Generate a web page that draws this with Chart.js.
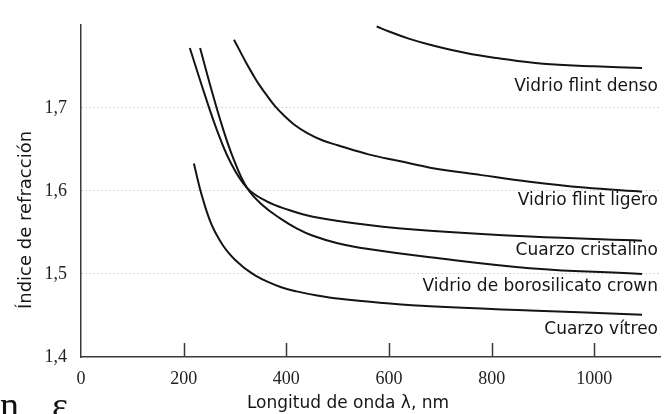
<!DOCTYPE html>
<html>
<head>
<meta charset="utf-8">
<script src="https://cdn.jsdelivr.net/npm/chart.js@4/dist/chart.umd.min.js"></script>
<style>
  html, body { margin: 0; padding: 0; background: #ffffff; }
  #wrap { width: 672px; height: 414px; position: relative; }
</style>
</head>
<body>
<div id="wrap"><canvas id="c" width="672" height="414"></canvas></div>
<script>
// Refractive index vs wavelength (nm) for several optical materials
const seriesNames = [
  'Vidrio flint denso',
  'Vidrio flint ligero',
  'Cuarzo cristalino',
  'Vidrio de borosilicato crown',
  'Cuarzo vítreo'
];

const flintDensoX = [576, 600, 640, 680, 750, 810, 900, 1000, 1093];
const flintDensoY = [1.798, 1.792, 1.783, 1.776, 1.766, 1.760, 1.753, 1.750, 1.748];

const flintLigeroX = [298, 310, 322, 335, 348, 362, 378, 395, 415, 440, 470, 500, 560, 620, 680, 780, 874, 980, 1093];
const flintLigeroY = [1.782, 1.768, 1.754, 1.740, 1.727, 1.715, 1.702, 1.691, 1.680, 1.670, 1.661, 1.655, 1.644, 1.636, 1.628, 1.619, 1.611, 1.604, 1.599];

const cristalinoX = [212, 240, 265, 290, 323, 360, 400, 452, 560, 680, 874, 1093];
const cristalinoY = [1.772, 1.718, 1.673, 1.636, 1.604, 1.588, 1.578, 1.569, 1.559, 1.552, 1.545, 1.540];

const crownX = [232, 255, 275, 295, 323, 355, 388, 420, 452, 500, 560, 680, 874, 1093];
const crownY = [1.772, 1.720, 1.678, 1.642, 1.604, 1.582, 1.567, 1.555, 1.546, 1.537, 1.530, 1.520, 1.507, 1.500];

const vitreoX = [220, 226, 232, 238, 245, 252, 260, 268, 277, 288, 300, 311, 323, 340, 362, 390, 420, 460, 504, 590, 680, 874, 1093];
const vitreoY = [1.633, 1.617, 1.602, 1.589, 1.575, 1.563, 1.552, 1.543, 1.534, 1.525, 1.517, 1.511, 1.505, 1.498, 1.491, 1.484, 1.479, 1.474, 1.470, 1.465, 1.461, 1.456, 1.451];

const xTickValues = [0, 200, 400, 600, 800, 1000];
const yTickValues = [1.4, 1.5, 1.6, 1.7];

// Baselines (canvas px) of the material names written at the right edge
const labelBaselines = [91, 205, 255, 291, 334];

const xs = [flintDensoX, flintLigeroX, cristalinoX, crownX, vitreoX];
const ys = [flintDensoY, flintLigeroY, cristalinoY, crownY, vitreoY];

const datasets = seriesNames.map((name, i) => ({
  label: name,
  data: xs[i].map((x, j) => ({ x: x, y: ys[i][j] })),
  borderColor: '#141414',
  borderWidth: 2,
  pointRadius: 0,
  fill: false,
  tension: 0.4
}));

const SANS = '"DejaVu Sans", "Liberation Sans", sans-serif';
const SERIF = '"Liberation Serif", "DejaVu Serif", serif';

const decor = {
  id: 'decor',
  afterDraw(chart) {
    const ctx = chart.ctx;
    const xScale = chart.scales.x;
    const area = chart.chartArea;
    ctx.save();

    // inward tick marks on the wavelength axis
    ctx.strokeStyle = '#3a3a3a';
    ctx.lineWidth = 1.5;
    xTickValues.forEach(v => {
      if (v === 0) return;
      const px = Math.round(xScale.getPixelForValue(v)) + 0.5;
      ctx.beginPath();
      ctx.moveTo(px, area.bottom);
      ctx.lineTo(px, area.bottom - 14);
      ctx.stroke();
    });

    // material names at the right end of each curve
    ctx.fillStyle = '#161616';
    ctx.font = '17px ' + SANS;
    ctx.textAlign = 'right';
    ctx.textBaseline = 'alphabetic';
    seriesNames.forEach((name, i) => {
      ctx.fillText(name, 658, labelBaselines[i]);
    });

    // axis titles
    ctx.textAlign = 'center';
    ctx.fillText('Longitud de onda λ, nm', 348, 408);

    ctx.save();
    ctx.translate(31, 220);
    ctx.rotate(-Math.PI / 2);
    ctx.font = '18px ' + SANS;
    ctx.fillText('Índice de refracción', 0, 0);
    ctx.restore();

    // glyphs of the following line of text, cut by the page edge
    ctx.fillStyle = '#111';
    ctx.font = '38px ' + SERIF;
    ctx.textAlign = 'left';
    ctx.fillText('n', 0, 418);
    ctx.fillText('ε', 52, 418);

    ctx.restore();
  }
};

new Chart(document.getElementById('c'), {
  type: 'line',
  data: { datasets: datasets },
  plugins: [decor],
  options: {
    responsive: false,
    animation: false,
    events: [],
    layout: { padding: { left: 0, right: 12, top: 15, bottom: 0 } },
    plugins: {
      legend: { display: false },
      tooltip: { enabled: false },
      title: { display: false }
    },
    scales: {
      x: {
        type: 'linear',
        min: 0,
        max: 1128,
        afterFit(scale) { scale.height = 57; },
        afterBuildTicks(scale) { scale.ticks = xTickValues.map(v => ({ value: v })); },
        grid: { display: false, drawTicks: false },
        border: { display: true, color: '#3a3a3a', width: 1.5 },
        ticks: {
          padding: 11,
          color: '#222',
          font: { family: SERIF, size: 18 },
          maxRotation: 0,
          autoSkip: false,
          callback: v => String(v)
        }
      },
      y: {
        type: 'linear',
        min: 1.4,
        max: 1.8,
        afterFit(scale) { scale.width = 81; },
        afterBuildTicks(scale) { scale.ticks = yTickValues.map(v => ({ value: v })); },
        grid: {
          drawTicks: false,
          lineWidth: 1,
          color: ctx => (ctx.tick && ctx.tick.value > 1.45) ? '#c8c8c8' : 'rgba(0,0,0,0)'
        },
        border: { display: true, color: '#3a3a3a', width: 1.5, dash: [1.5, 2.5] },
        ticks: {
          padding: 14,
          color: '#222',
          font: { family: SERIF, size: 18 },
          autoSkip: false,
          callback: v => Number(v).toFixed(1).replace('.', ',')
        }
      }
    }
  }
});
</script>
</body>
</html>
